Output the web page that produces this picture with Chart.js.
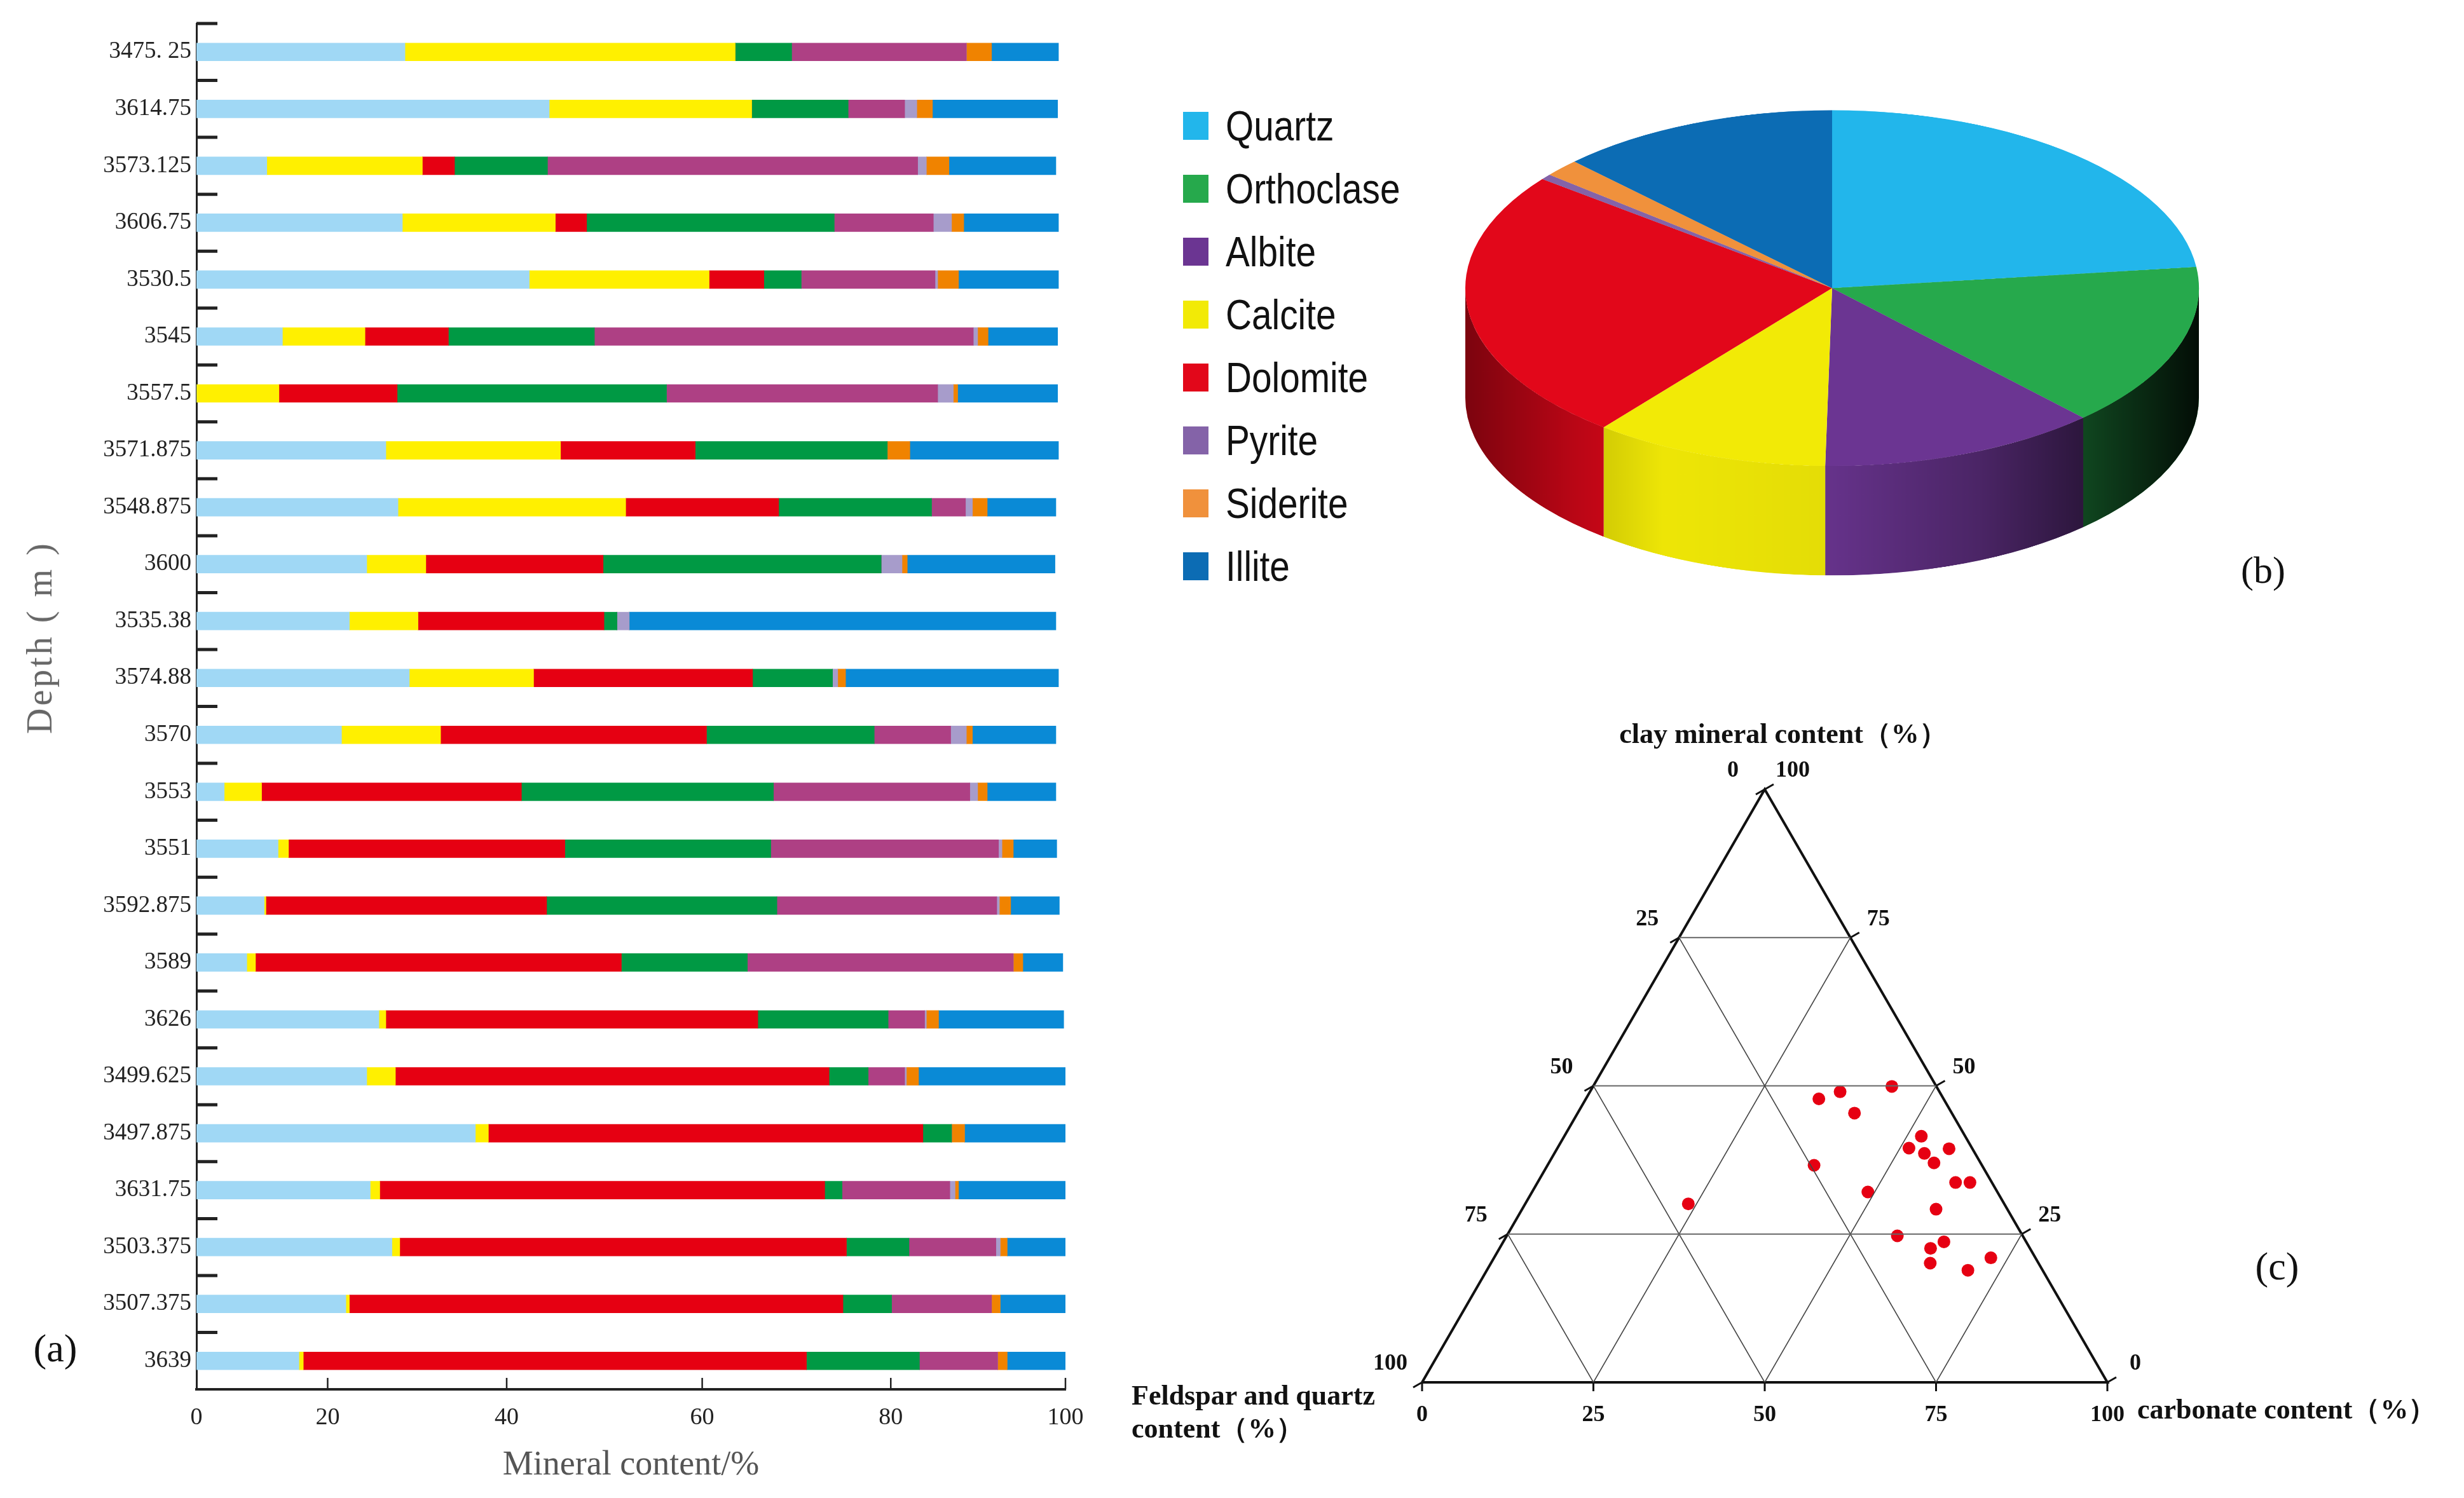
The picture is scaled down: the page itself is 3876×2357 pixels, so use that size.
<!DOCTYPE html>
<html>
<head>
<meta charset="utf-8">
<script src="https://cdn.jsdelivr.net/npm/chart.js"></script>
<style>
  body { margin: 0; background: #fff; width: 3876px; height: 2357px; position: relative; overflow: hidden; font-family: "Liberation Serif", serif; }
  canvas { position: absolute; }
  .lbl { position: absolute; white-space: nowrap; color: #111; }
  .tern { font-weight: bold; font-size: 44px; }
  #pieLegend { position: absolute; left: 1861px; top: 148px; font-family: "Liberation Sans", sans-serif; font-size: 66px; color: #111; }
  #pieLegend div { height: 99px; display: flex; align-items: center; }
  #pieLegend span.sw { width: 40px; height: 44px; margin-right: 27px; display: inline-block; }
  #pieLegend span.tx { display: inline-block; transform: scaleX(0.86); transform-origin: 0 50%; }
</style>
</head>
<body>
<canvas id="barChart" width="1720" height="2357" style="left:0;top:0"></canvas>
<canvas id="pieChart" width="1160" height="1515" style="left:2302px;top:172px;transform:scaleY(0.485);transform-origin:0 0"></canvas>
<canvas id="ternChart" width="2116" height="1257" style="left:1760px;top:1100px"></canvas>
<div id="pieLegend"></div>

<div class="lbl" style="left:62px;top:1003px;transform:translate(-50%,-50%) rotate(-90deg);font-size:56px;color:#666;letter-spacing:4px">Depth ( m )</div>
<div class="lbl" style="left:87px;top:2121px;transform:translate(-50%,-50%);font-size:62px">(a)</div>
<div class="lbl" style="left:3560px;top:897px;transform:translate(-50%,-50%);font-size:60px">(b)</div>
<div class="lbl" style="left:3582px;top:1992px;transform:translate(-50%,-50%);font-size:62px">(c)</div>
<div class="lbl tern" style="left:2805px;top:1154px;transform:translate(-50%,-50%)">clay mineral content（%）</div>
<div class="lbl tern" style="left:1780px;top:2195px;transform:translateY(-50%)">Feldspar and quartz</div>
<div class="lbl tern" style="left:1780px;top:2247px;transform:translateY(-50%)">content（%）</div>
<div class="lbl tern" style="left:3362px;top:2217px;transform:translateY(-50%)">carbonate content（%）</div>

<script>
// (a) 各深度矿物含量
const depthLabels = ['3475. 25', '3614.75', '3573.125', '3606.75', '3530.5', '3545', '3557.5', '3571.875',
  '3548.875', '3600', '3535.38', '3574.88', '3570', '3553', '3551', '3592.875', '3589', '3626',
  '3499.625', '3497.875', '3631.75', '3503.375', '3507.375', '3639'];
const quartz = [24.0, 40.6, 8.1, 23.7, 38.3, 9.9, 0, 21.8, 23.2, 19.6, 17.6, 24.5, 16.7, 3.2, 9.4, 7.8, 5.8, 21.0, 19.6, 32.1, 20.0, 22.5, 17.2, 11.8];
const calcite = [38.0, 23.3, 17.9, 17.6, 20.7, 9.5, 9.5, 20.1, 26.2, 6.8, 7.9, 14.3, 11.4, 4.3, 1.2, 0.2, 1.0, 0.8, 3.3, 1.5, 1.1, 0.9, 0.4, 0.5];
const dolomite = [0, 0, 3.7, 3.6, 6.3, 9.6, 13.6, 15.5, 17.6, 20.4, 21.4, 25.2, 30.6, 29.9, 31.8, 32.3, 42.1, 42.8, 49.9, 50.0, 51.2, 51.4, 56.8, 57.9];
const orthoclase = [6.5, 11.1, 10.7, 28.5, 4.3, 16.8, 31.0, 22.1, 17.6, 32.0, 1.5, 9.2, 19.3, 29.0, 23.7, 26.5, 14.5, 15.0, 4.5, 3.3, 2.0, 7.2, 5.6, 13.0];
const albite = [20.1, 6.5, 42.6, 11.4, 15.4, 43.6, 31.2, 0, 3.9, 0, 0, 0, 8.8, 22.6, 26.2, 25.3, 30.6, 4.2, 4.2, 0, 12.4, 10.0, 11.5, 9.0];
const pyrite = [0, 1.4, 1.0, 2.1, 0.3, 0.5, 1.8, 0, 0.8, 2.4, 1.4, 0.6, 1.8, 0.9, 0.4, 0.3, 0, 0.2, 0.2, 0, 0.6, 0.5, 0, 0];
const siderite = [2.9, 1.8, 2.6, 1.4, 2.4, 1.2, 0.5, 2.6, 1.7, 0.6, 0, 0.9, 0.7, 1.1, 1.3, 1.3, 1.1, 1.4, 1.4, 1.5, 0.4, 0.8, 1.0, 1.1];
const illite = [7.7, 14.4, 12.3, 10.9, 11.5, 8.0, 11.5, 17.1, 7.9, 17.0, 49.1, 24.5, 9.6, 7.9, 5.0, 5.6, 4.6, 14.4, 17.2, 11.8, 12.4, 6.9, 7.5, 6.7];
const barNames = ['Quartz', 'Calcite', 'Dolomite', 'Orthoclase', 'Albite', 'Pyrite', 'Siderite', 'Illite'];
const barValues = [quartz, calcite, dolomite, orthoclase, albite, pyrite, siderite, illite];
const barColors = ['#A0D8F5', '#FFF000', '#E60012', '#009944', '#AE4084', '#A79CCB', '#F08300', '#0A8AD6'];
// 原图横轴刻度间距不均匀
const xTickPos = [0, 15.1, 35.7, 58.2, 79.9, 100];
const xTickLabels = ['0', '20', '40', '60', '80', '100'];

// (b) 平均矿物组成
const pieLabels = ['Quartz', 'Orthoclase', 'Albite', 'Calcite', 'Dolomite', 'Pyrite', 'Siderite', 'Illite'];
const pieValues = [23.1, 14.9, 12.3, 10.4, 24.8, 0.5, 1.6, 12.4];
const pieColors = ['#22B6EB', '#26A94C', '#6B3592', '#F2EA06', '#E2071A', '#8463A8', '#F0913C', '#0C6CB4'];

// (c) 三角图
const clayPct = [49.9, 49.0, 47.8, 45.4, 41.5, 39.5, 38.6, 39.4, 37.0, 36.6, 33.7, 33.7, 32.1, 30.1, 29.2, 24.7, 23.7, 22.6, 21.0, 20.1, 18.9];
const carbPct = [43.6, 36.5, 34.0, 40.4, 52.1, 51.3, 54.0, 57.2, 56.2, 38.9, 61.0, 63.1, 49.0, 23.8, 60.4, 57.0, 64.3, 62.9, 72.5, 64.1, 70.2];
const gridLevels = [25, 50, 75];
const edgeLevels = [0, 25, 50, 75, 100];

// 柱状图：内侧刻度
const innerTicks = {
  id: 'innerTicks',
  afterDraw(chart) {
    const { ctx, scales: { x, y } } = chart;
    ctx.save();
    ctx.strokeStyle = '#222';
    ctx.lineWidth = 5;
    for (let i = 0; i < depthLabels.length; i++) {
      const py = y.getPixelForValue(i - 0.5);
      ctx.beginPath();
      ctx.moveTo(x.left, py);
      ctx.lineTo(x.left + 33, py);
      ctx.stroke();
    }
    ctx.lineWidth = 2.5;
    x.ticks.forEach(t => {
      if (t.value === 0) return;
      const px = x.getPixelForValue(t.value);
      ctx.beginPath();
      ctx.moveTo(px, y.bottom);
      ctx.lineTo(px, y.bottom - 18);
      ctx.stroke();
    });
    ctx.restore();
  }
};

new Chart(document.getElementById('barChart'), {
  type: 'bar',
  data: {
    labels: depthLabels,
    datasets: barNames.map((name, i) => ({
      label: name,
      data: barValues[i],
      backgroundColor: barColors[i],
      borderWidth: 0,
      barThickness: 28
    }))
  },
  options: {
    indexAxis: 'y',
    responsive: false,
    animation: false,
    layout: { padding: { top: 37, right: 44, left: 0, bottom: 0 } },
    plugins: { legend: { display: false }, tooltip: { enabled: false } },
    scales: {
      x: {
        stacked: true,
        min: 0,
        max: 100,
        afterFit: s => { s.height = 171; },
        afterBuildTicks: s => { s.ticks = xTickPos.map(v => ({ value: v })); },
        grid: { display: false },
        border: { display: true, color: '#222', width: 4 },
        ticks: {
          autoSkip: false,
          padding: 14,
          color: '#222',
          font: { family: 'Liberation Serif', size: 38 },
          callback: (v, i) => xTickLabels[i]
        },
        title: {
          display: true,
          text: 'Mineral content/%',
          color: '#555',
          font: { family: 'Liberation Serif', size: 54 },
          padding: { top: 0, bottom: 19 }
        }
      },
      y: {
        stacked: true,
        afterFit: s => { s.width = 309; },
        grid: { display: false, drawTicks: false },
        border: { display: true, color: '#222', width: 3 },
        ticks: {
          autoSkip: false,
          padding: 8,
          color: '#222',
          font: { family: 'Liberation Serif', size: 37 }
        }
      }
    }
  },
  plugins: [innerTicks]
});

// 饼图：侧面（立体效果）
const pieDepth = 355;
const pieSides = {
  id: 'pieSides',
  beforeDatasetsDraw(chart) {
    const ctx = chart.ctx;
    const meta = chart.getDatasetMeta(0);
    meta.data.forEach((arc, i) => {
      const { x, y, startAngle, endAngle, outerRadius: r } =
        arc.getProps(['x', 'y', 'startAngle', 'endAngle', 'outerRadius'], true);
      const a0 = Math.max(startAngle, 0);
      const a1 = Math.min(endAngle, Math.PI);
      if (a1 <= a0) return;
      const path = () => {
        ctx.beginPath();
        ctx.arc(x, y, r, a0, a1);
        ctx.lineTo(x + r * Math.cos(a1), y + pieDepth + r * Math.sin(a1));
        ctx.arc(x, y + pieDepth, r, a1, a0, true);
        ctx.closePath();
      };
      ctx.save();
      path();
      ctx.fillStyle = pieColors[i];
      ctx.fill();
      const g = ctx.createLinearGradient(x - r, 0, x + r, 0);
      g.addColorStop(0, 'rgba(0,0,0,0.45)');
      g.addColorStop(0.15, 'rgba(0,0,0,0.18)');
      g.addColorStop(0.27, 'rgba(0,0,0,0.02)');
      g.addColorStop(0.5, 'rgba(0,0,0,0.06)');
      g.addColorStop(0.7, 'rgba(0,0,0,0.3)');
      g.addColorStop(0.85, 'rgba(0,0,0,0.6)');
      g.addColorStop(1, 'rgba(0,0,0,0.92)');
      path();
      ctx.fillStyle = g;
      ctx.fill();
      ctx.restore();
    });
  }
};

new Chart(document.getElementById('pieChart'), {
  type: 'pie',
  data: {
    labels: pieLabels,
    datasets: [{ data: pieValues, backgroundColor: pieColors, borderWidth: 0 }]
  },
  options: {
    responsive: false,
    animation: false,
    layout: { padding: { top: 3, left: 3, right: 3, bottom: 3 + pieDepth } },
    plugins: { legend: { display: false }, tooltip: { enabled: false } }
  },
  plugins: [pieSides]
});

// 饼图图例
const legendBox = document.getElementById('pieLegend');
pieLabels.forEach((name, i) => {
  const row = document.createElement('div');
  const sw = document.createElement('span');
  sw.className = 'sw';
  sw.style.background = pieColors[i];
  const tx = document.createElement('span');
  tx.className = 'tx';
  tx.textContent = name;
  row.appendChild(sw);
  row.appendChild(tx);
  legendBox.appendChild(row);
});

// 三角图：碳酸盐 / 黏土 -> 直角坐标
const SQ = Math.sqrt(3) / 2;
const tern = (carb, clay) => ({ x: carb + clay / 2, y: clay * SQ });

const lineSet = (pts, color, width) => ({
  type: 'line',
  data: pts,
  borderColor: color,
  borderWidth: width,
  pointRadius: 0,
  fill: false,
  clip: false
});

const ternDatasets = [];
gridLevels.forEach(L => {
  ternDatasets.push(lineSet([tern(0, L), tern(100 - L, L)], '#666', 2));          // 等黏土线
  ternDatasets.push(lineSet([tern(L, 0), tern(L, 100 - L)], '#444', 1.5));        // 等碳酸盐线
  ternDatasets.push(lineSet([tern(100 - L, 0), tern(0, 100 - L)], '#444', 1.5));  // 等长英质线
});
ternDatasets.push(lineSet([tern(0, 0), tern(100, 0), tern(0, 100), tern(0, 0)], '#111', 4));
ternDatasets.push({
  type: 'scatter',
  data: clayPct.map((c, i) => tern(carbPct[i], c)),
  backgroundColor: '#E60012',
  borderWidth: 0,
  pointRadius: 10,
  clip: false
});

const ternLabels = {
  id: 'ternLabels',
  afterDraw(chart) {
    const { ctx, scales: { x, y } } = chart;
    const px = p => [x.getPixelForValue(p.x), y.getPixelForValue(p.y)];
    ctx.save();
    ctx.fillStyle = '#111';
    ctx.strokeStyle = '#111';
    ctx.lineWidth = 3;
    ctx.font = 'bold 36px "Liberation Serif"';
    ctx.textAlign = 'center';
    ctx.textBaseline = 'middle';
    edgeLevels.forEach(v => {
      // 左边：长英质含量
      let [X, Y] = px(tern(0, 100 - v));
      ctx.fillText(String(v), X - 50, Y - 29);
      ctx.beginPath(); ctx.moveTo(X, Y); ctx.lineTo(X - 14, Y + 8); ctx.stroke();
      // 右边：黏土含量
      [X, Y] = px(tern(100 - v, v));
      ctx.fillText(String(v), X + 44, Y - 29);
      ctx.beginPath(); ctx.moveTo(X, Y); ctx.lineTo(X + 14, Y - 8); ctx.stroke();
      // 底边：碳酸盐含量
      [X, Y] = px(tern(v, 0));
      ctx.fillText(String(v), X, Y + 52);
      ctx.beginPath(); ctx.moveTo(X, Y); ctx.lineTo(X, Y + 14); ctx.stroke();
    });
    ctx.restore();
  }
};

new Chart(document.getElementById('ternChart'), {
  type: 'scatter',
  data: { datasets: ternDatasets },
  options: {
    responsive: false,
    animation: false,
    layout: { padding: { left: 477, right: 561, top: 142, bottom: 182 } },
    plugins: { legend: { display: false }, tooltip: { enabled: false } },
    scales: {
      x: { type: 'linear', min: 0, max: 100, display: false },
      y: { type: 'linear', min: 0, max: 100 * SQ, display: false }
    }
  },
  plugins: [ternLabels]
});
</script>
</body>
</html>
